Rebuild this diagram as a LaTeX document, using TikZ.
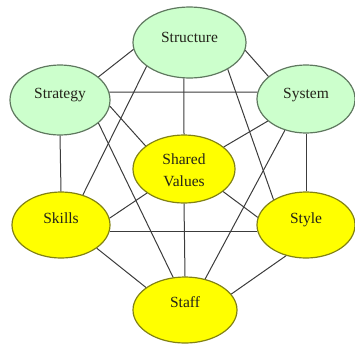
\documentclass[tikz,border=0pt]{standalone}
\usepackage{fontspec}
\setmainfont{Liberation Serif}
\newfontfamily\diagfont{Liberation Serif}
\usetikzlibrary{shapes.geometric}
\definecolor{greenfill}{RGB}{204,255,204}
\definecolor{greenline}{RGB}{95,120,95}
\definecolor{yellowfill}{RGB}{255,255,0}
\definecolor{yellowline}{RGB}{130,130,20}
\definecolor{linkgray}{RGB}{60,60,60}
\definecolor{textdark}{RGB}{35,35,25}
\begin{document}
\begin{tikzpicture}[x=1pt,y=-1pt,
  oval/.style={ellipse, draw, line width=1.2pt, inner sep=0pt},
  greenoval/.style={oval, fill=greenfill, draw=greenline},
  yellowoval/.style={oval, fill=yellowfill, draw=yellowline},
  lbl/.style={anchor=base, inner sep=0pt, text=textdark, font=\diagfont\fontsize{15.5}{22}\selectfont},
  link/.style={draw=linkgray, line width=1pt}]
\useasboundingbox (0,0) rectangle (355,343);
\node[greenoval, minimum width=113pt, minimum height=71pt] (structure) at (189.5,42.5) {};
\node[greenoval, minimum width=100pt, minimum height=70pt] (strategy) at (60,100) {};
\node[greenoval, minimum width=98pt, minimum height=68pt] (system) at (306,99) {};
\node[yellowoval, minimum width=102pt, minimum height=68pt] (shared) at (184,169) {};
\node[yellowoval, minimum width=98pt, minimum height=66pt] (skills) at (61,225) {};
\node[yellowoval, minimum width=98pt, minimum height=66pt] (style) at (306,225) {};
\node[yellowoval, minimum width=104pt, minimum height=66pt] (staff) at (185,310) {};
\node[lbl] (structure-text) at (189.5,42) {Structure};
\node[lbl] (strategy-text) at (60,98) {Strategy};
\node[lbl] (system-text) at (306,98) {System};
\node[lbl, anchor=center, align=center] (shared-text) at (184,170.5) {Shared\\Values};
\node[lbl] (skills-text) at (61,223) {Skills};
\node[lbl] (style-text) at (306,223) {Style};
\node[lbl] (staff-text) at (185,307) {Staff};
\draw[link] (strategy.31) -- (structure.187);
\draw[link] (structure.352) -- (system.149);
\draw[link] (strategy.9) -- (system.172);
\draw[link] (structure.261) -- (shared.north);
\draw[link] (strategy.south) -- (skills.north);
\draw[link] (system.south) -- (style.north);
\draw[link] (skills.352) -- (style.188);
\draw[link] (shared.south) -- (staff.north);
\draw[link] (skills.327) -- (staff.150);
\draw[link] (style.237) -- (staff.19);
\draw[link] (strategy.353) -- (shared.149);
\draw[link] (system.210) -- (shared.29);
\draw[link] (skills.8) -- (shared.213);
\draw[link] (style.171) -- (shared.330);
\draw[link] (structure.209) -- (skills.54);
\draw[link] (structure.325) -- (style.142);
\draw[link] (strategy.329) -- (staff.110);
\draw[link] (system.236) -- (staff.57);
\end{tikzpicture}
\end{document}
